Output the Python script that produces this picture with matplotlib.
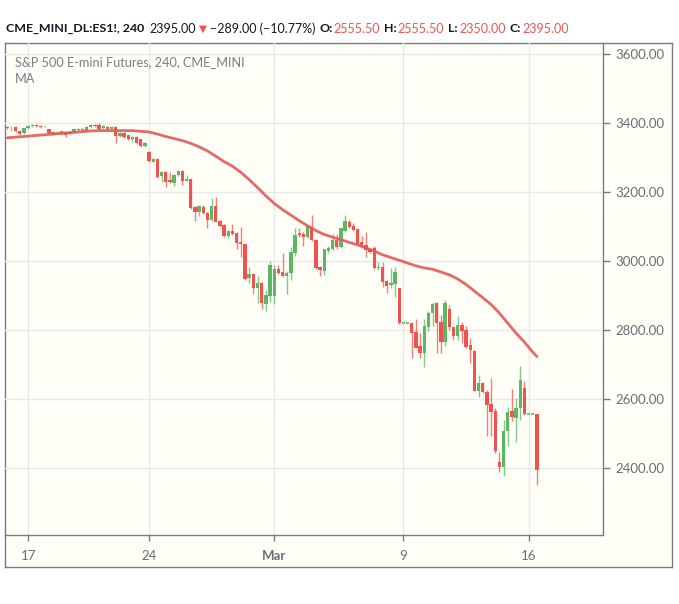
import numpy as np
import matplotlib
matplotlib.use("Agg")
import matplotlib.pyplot as plt

plt.rcParams['font.family'] = ['Lato', 'DejaVu Sans']

# 4h bars, ES1! (CME_MINI)
opens = [3389, 3385, 3389, 3378, 3372, 3385, 3391, 3394, 3392, 3390,
         3382, 3368, 3372, 3368, 3375, 3368, 3374, 3381, 3383, 3378,
         3388, 3394, 3395, 3385, 3389, 3384, 3389, 3363, 3372, 3364,
         3355, 3360, 3353, 3333, 3316, 3288, 3296, 3246, 3259, 3235,
         3226, 3249, 3261, 3233, 3238, 3157, 3143, 3158, 3140, 3119,
         3160, 3116, 3104, 3073, 3088, 3080, 3056, 3050, 2950, 2962,
         2921, 2937, 2875, 2900, 2900, 2977, 2969, 2957, 2964, 3024,
         3082, 3077, 3071, 3100, 3061, 2983, 2971, 3030, 3035, 3061,
         3041, 3087, 3114, 3102, 3093, 3056, 3046, 3035, 3038, 2981,
         2984, 2942, 2930, 2934, 2921, 2820, 2820, 2820, 2795, 2754,
         2734, 2810, 2848, 2879, 2823, 2766, 2861, 2808, 2783, 2814,
         2800, 2756, 2739, 2624, 2645, 2619, 2585, 2565, 2416, 2404,
         2507, 2565, 2546, 2575, 2631, 2555.5, 2555.5, 2555.5]
highs = [3391, 3392, 3392, 3380, 3386, 3394, 3397, 3396, 3394, 3394,
         3384, 3377, 3377, 3378, 3377, 3377, 3384, 3386, 3386, 3391,
         3397, 3397, 3399, 3393, 3391, 3391, 3391, 3374, 3374, 3366,
         3362, 3362, 3355, 3345, 3318, 3299, 3298, 3262, 3262, 3259,
         3252, 3264, 3263, 3249, 3240, 3159, 3162, 3162, 3142, 3183,
         3186, 3118, 3106, 3090, 3107, 3085, 3098, 3053, 2983, 2965,
         2957, 2940, 2916, 3001, 2989, 2988, 3024, 2970, 3041, 3095,
         3095, 3084, 3104, 3133, 3063, 2986, 3036, 3044, 3078, 3078,
         3097, 3133, 3119, 3110, 3095, 3072, 3085, 3038, 3044, 2998,
         2998, 2944, 2981, 2983, 2923, 2820, 2820, 2822, 2832, 2790,
         2833, 2854, 2880, 2881, 2843, 2887, 2872, 2810, 2841, 2823,
         2812, 2776, 2741, 2670, 2650, 2626, 2661, 2573, 2445, 2539,
         2578, 2628, 2602, 2697, 2653, 2555.5, 2555.5, 2555.5]
lows = [3384, 3378, 3375, 3365, 3368, 3383, 3389, 3388, 3386, 3388,
        3368, 3366, 3368, 3366, 3359, 3366, 3372, 3378, 3379, 3376,
        3386, 3388, 3380, 3383, 3380, 3382, 3341, 3360, 3358, 3352,
        3346, 3339, 3331, 3330, 3288, 3286, 3242, 3230, 3215, 3226,
        3217, 3247, 3220, 3231, 3152, 3117, 3130, 3135, 3095, 3116,
        3112, 3099, 3070, 3066, 3076, 3034, 3012, 2945, 2935, 2904,
        2879, 2861, 2855, 2882, 2875, 2963, 2954, 2904, 2945, 3015,
        3070, 3044, 3067, 3058, 2977, 2957, 2959, 3023, 3032, 3035,
        3038, 3084, 3097, 3088, 3046, 3038, 3012, 3022, 2978, 2974,
        2925, 2906, 2923, 2897, 2818, 2820, 2820, 2719, 2747, 2720,
        2693, 2797, 2813, 2732, 2732, 2754, 2800, 2771, 2771, 2761,
        2749, 2703, 2622, 2605, 2617, 2493, 2493, 2443, 2389, 2378,
        2464, 2537, 2476, 2539, 2554, 2555.5, 2555.5, 2350]
closes = [3386, 3387, 3378, 3368, 3385, 3392, 3394, 3391, 3388, 3392,
          3370, 3375, 3370, 3376, 3364, 3375, 3382, 3383, 3381, 3389,
          3395, 3392, 3382, 3391, 3382, 3389, 3363, 3372, 3360, 3355,
          3360, 3343, 3333, 3343, 3290, 3296, 3244, 3259, 3230, 3228,
          3249, 3261, 3233, 3238, 3154, 3143, 3160, 3138, 3119, 3160,
          3114, 3102, 3072, 3088, 3079, 3053, 3048, 2948, 2962, 2921,
          2937, 2877, 2901, 2988, 2977, 2966, 2957, 2966, 3027, 3075,
          3075, 3071, 3101, 3061, 2980, 2973, 3034, 3037, 3061, 3041,
          3095, 3116, 3100, 3090, 3049, 3041, 3032, 3025, 2981, 2984,
          2940, 2928, 2937, 2969, 2819, 2820, 2820, 2790, 2749, 2732,
          2812, 2848, 2875, 2821, 2766, 2877, 2808, 2783, 2814, 2798,
          2752, 2742, 2624, 2645, 2619, 2583, 2563, 2449, 2404, 2507,
          2561, 2547, 2575, 2655, 2556, 2555.5, 2555.5, 2395]

# moving average, read every 2 bars
ma_bars = list(range(0, 127, 2)) + [127]
ma_vals = [3357, 3359, 3361, 3363, 3365, 3367, 3369, 3371, 3373, 3375,
           3377, 3378, 3378, 3378, 3378, 3378, 3376, 3374, 3368, 3361,
           3355, 3349, 3341, 3331, 3319, 3304, 3288, 3275, 3257, 3236,
           3213, 3189, 3167, 3149, 3133, 3117, 3102, 3088, 3077, 3069,
           3062, 3054, 3047, 3038, 3029, 3018, 3010, 3002, 2994, 2986,
           2980, 2976, 2968, 2960, 2948, 2932, 2913, 2894, 2874, 2849,
           2820, 2791, 2765, 2736, 2723]

tick_bars = [5, 34, 64, 95, 125]
tick_labels = ["17", "24", "Mar", "9", "16"]
price_ticks = [2400, 2600, 2800, 3000, 3200, 3400, 3600]

UP = "#5db664"
DOWN = "#ef5350"
FRAME = "#787b86"
BG = "#fffef7"
INK = "#131722"

W, H = 679, 604
fig = plt.figure(figsize=(W / 100, H / 100), dpi=100)

def fx(px):
    return px / W

def fy(py):
    return 1 - py / H

# outer frame
bg = fig.add_axes([fx(5), fy(567), (672 - 5) / W, (567 - 43) / H])
bg.set_facecolor(BG)
bg.set_xticks([])
bg.set_yticks([])
for s in bg.spines.values():
    s.set_color(FRAME)
    s.set_linewidth(1)

ax = fig.add_axes([fx(5), fy(535), (603 - 5) / W, (535 - 43) / H])
ax.patch.set_alpha(0)

o = np.array(opens, dtype=float)
h = np.array(highs, dtype=float)
l = np.array(lows, dtype=float)
c = np.array(closes, dtype=float)
idx = np.arange(len(o))
up = c >= o
cols = np.where(up, UP, DOWN)

ax.vlines(idx, l, h, colors=cols, linewidth=1, alpha=0.75, zorder=2)
body_w = 0.8
ax.bar(idx, np.abs(c - o), bottom=np.minimum(o, c), width=body_w,
       color=cols, linewidth=0, zorder=3)
tiny = np.abs(c - o) < 2
ax.hlines(np.where(up, c, o)[tiny], idx[tiny] - body_w / 2, idx[tiny] + body_w / 2,
          colors=cols[tiny], linewidth=1.2, zorder=3)

ax.plot(ma_bars, ma_vals, color="#e05a5a", linewidth=2, alpha=0.9, zorder=4,
        solid_capstyle="round", solid_joinstyle="round")

ax.set_xlim(-0.55, 142.85)
ax.set_ylim(2205.7, 3632)
ax.set_xticks(tick_bars)
ax.set_xticklabels(tick_labels)
ax.set_yticks(price_ticks)
ax.set_yticklabels([f"{v:.2f}" for v in price_ticks])
ax.grid(True, color="#e9e9e9", linewidth=1, zorder=0)
ax.set_axisbelow(True)

ax.yaxis.tick_right()
ax.tick_params(axis="y", length=5, width=1, color=FRAME, labelcolor="#6a6d78",
               labelsize=9.5, pad=4)
ax.tick_params(axis="x", length=4, width=1, color=FRAME, labelcolor="#6a6d78",
               labelsize=9.5, pad=7)
for lab in ax.get_xticklabels():
    if lab.get_text() == "Mar":
        lab.set_fontweight("bold")

ax.spines["left"].set_visible(False)
ax.spines["top"].set_visible(False)
for s in ("right", "bottom"):
    ax.spines[s].set_color(FRAME)
    ax.spines[s].set_linewidth(1)

# header line, laid out piece by piece
renderer = fig.canvas.get_renderer()
hy = fy(29)
pieces = [
    ("CME_MINI_DL:ES1!, 240", INK, "bold", 8.9, 5),
    ("2395.00", INK, "normal", 9, 3),
    ("\u25BC", DOWN, "normal", 7.5, 3),
    ("\u2212289.00 (\u221210.77%)", INK, "normal", 9, 4),
    ("O:", INK, "bold", 8.9, 1),
    ("2555.50", DOWN, "normal", 9, 4),
    ("H:", INK, "bold", 8.9, 1),
    ("2555.50", DOWN, "normal", 9, 4),
    ("L:", INK, "bold", 8.9, 1),
    ("2350.00", DOWN, "normal", 9, 4),
    ("C:", INK, "bold", 8.9, 1),
    ("2395.00", DOWN, "normal", 9, 0),
]
xpos = 6
for txt, col, wt, size, gap in pieces:
    fam = ["DejaVu Sans"] if txt == "\u25BC" else ["Lato", "DejaVu Sans"]
    t = fig.text(fx(xpos), hy, txt, fontsize=size, fontweight=wt, color=col,
                 va="center", family=fam)
    xpos += t.get_window_extent(renderer).width + gap

fig.text(fx(15), fy(62), "S&P 500 E-mini Futures, 240, CME_MINI", fontsize=9.2,
         color="#7b7e88", va="center")
fig.text(fx(15), fy(79), "MA", fontsize=9.2, color="#7b7e88", va="center")

fig.savefig("out.png", dpi=100, facecolor="white")
